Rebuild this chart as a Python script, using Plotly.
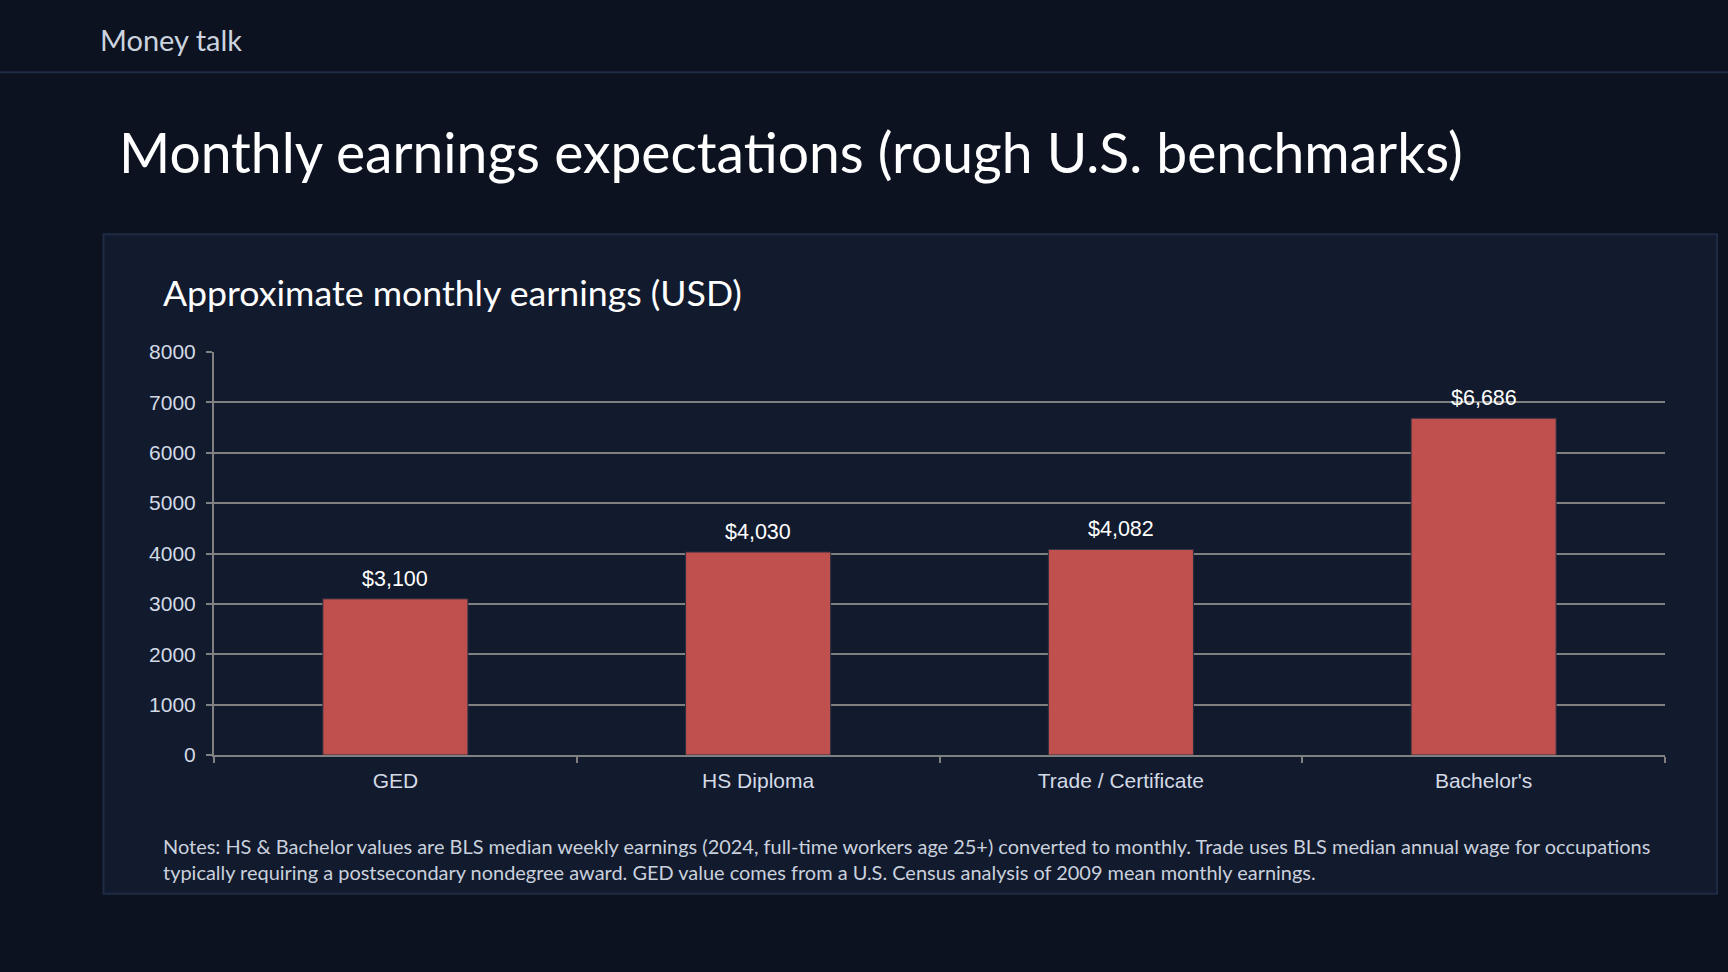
import plotly.graph_objects as go

# chart data
categories = ["GED", "HS Diploma", "Trade / Certificate", "Bachelor's"]
monthly_earnings = [3100, 4030, 4082, 6686]
y_ticks = [0, 1000, 2000, 3000, 4000, 5000, 6000, 7000, 8000]

W, H = 1728, 972
# plot area in pixels
L, R, T, B = 214, 1665, 351.5, 755


def px_x(p):
    return (p - L) / (R - L)


def px_y(p):
    return (B - p) / (B - T)


label_font = dict(family="Liberation Sans, Arial", size=21, color="#d3dae6")

fig = go.Figure(data=[
    go.Bar(
        x=categories,
        y=monthly_earnings,
        marker=dict(color="#c0504d", line=dict(color="#2a2f3f", width=1)),
        width=0.4,
        hoverinfo="x+y",
    )
])

# value labels above the bars
for cat, val in zip(categories, monthly_earnings):
    fig.add_annotation(
        x=cat, y=val, text=f"${val:,}", showarrow=False,
        yanchor="bottom", yshift=6,
        font=dict(family="Liberation Sans, Arial", size=21.5, color="#ffffff"),
    )

shapes = [
    # header divider
    dict(type="line", xref="paper", yref="paper",
         x0=px_x(0), x1=px_x(W), y0=px_y(71.5), y1=px_y(71.5),
         line=dict(color="#1f2c45", width=2), layer="below"),
    # chart card
    dict(type="rect", xref="paper", yref="paper",
         x0=px_x(103.5), x1=px_x(1717), y0=px_y(233.5), y1=px_y(894),
         fillcolor="#121a2e", line=dict(color="#1f2b45", width=2), layer="below"),
]

texts = [
    dict(text="Money talk", x=98, y=39, size=29, color="#cbd3df"),
    dict(text="Monthly earnings expectations (rough U.S. benchmarks)", x=117, y=151, size=55.2, color="#ffffff"),
    dict(text="Approximate monthly earnings (USD)", x=161, y=292, size=35.7, color="#ffffff"),
    dict(text="Notes: HS &amp; Bachelor values are BLS median weekly earnings (2024, full-time workers age 25+) "
              "converted to monthly. Trade uses BLS median annual wage for occupations<br>"
              "typically requiring a postsecondary nondegree award. GED value comes from a U.S. Census "
              "analysis of 2009 mean monthly earnings.",
         x=161, y=859, size=19.95, color="#c9d1dd"),
]
for t in texts:
    fig.add_annotation(
        text=t["text"], xref="paper", yref="paper",
        x=px_x(t["x"]), y=px_y(t["y"]),
        xanchor="left", yanchor="middle", align="left", showarrow=False,
        font=dict(family="Lato, Open Sans, sans-serif", size=t["size"], color=t["color"]),
    )

fig.update_layout(
    width=W, height=H,
    margin=dict(l=L, r=W - R, t=T, b=H - B),
    paper_bgcolor="#0c1220",
    plot_bgcolor="#121a2e",
    shapes=shapes,
    showlegend=False,
    bargap=0.6,
    xaxis=dict(
        showline=True, linecolor="#808080", linewidth=2,
        ticks="outside", tickson="boundaries", ticklen=6, tickcolor="#808080", tickwidth=2,
        ticklabelstandoff=6,
        tickfont=label_font, showgrid=False, fixedrange=True,
    ),
    yaxis=dict(
        range=[0, 8000], tickvals=y_ticks, showline=True, linecolor="#808080", linewidth=2,
        ticks="outside", ticklen=6, tickcolor="#808080", tickwidth=2,
        ticklabelstandoff=6,
        gridcolor="#808080", gridwidth=1.5, zeroline=False,
        tickfont=label_font, fixedrange=True,
    ),
)

fig.write_html(
    "out.html",
    config={"displayModeBar": False},
    post_script="document.body.style.margin='0';document.body.style.background='#0c1220';",
)
